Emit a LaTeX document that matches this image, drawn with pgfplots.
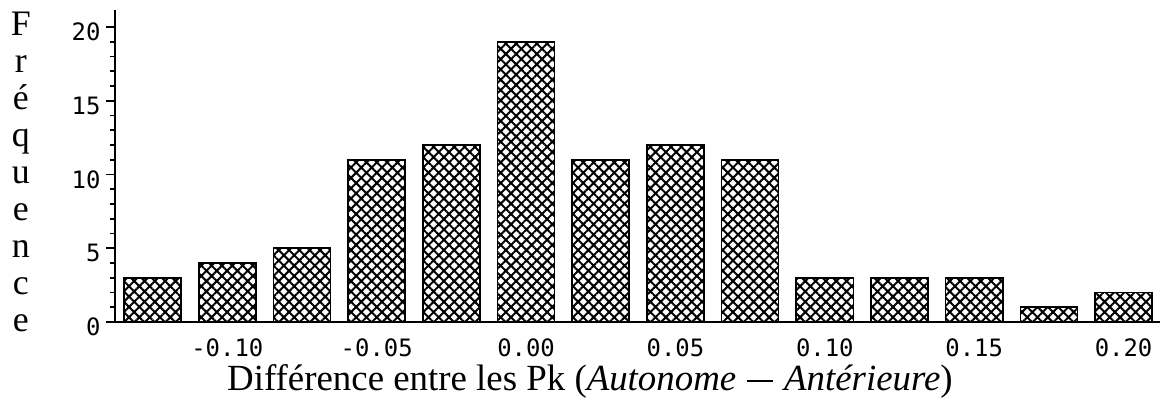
\documentclass[border=0pt]{standalone}
\usepackage{fontspec}
\setmainfont{Liberation Serif}
\newfontfamily\monofont{DejaVu Sans Mono}
\usepackage{pgfplots}
\pgfplotsset{compat=1.18}
\usetikzlibrary{patterns.meta}
\begin{document}
\begin{tikzpicture}
\useasboundingbox (-115bp,-83bp) rectangle (1046bp,322bp);
\begin{axis}[
  at={(0,0)}, anchor=south west,
  scale only axis, width=1045bp, height=312bp,
  xmin=-0.1376, xmax=0.2122, ymin=0, ymax=21.15,
  axis x line=bottom, axis y line=left,
  axis line style={-, line width=1.6bp},
  xtick={-0.1,-0.05,0,0.05,0.1,0.15,0.2},
  xticklabels={-0.10,-0.05,0.00,0.05,0.10,0.15,0.20},
  ytick={0,5,10,15,20}, yticklabels={0,5,10,15,20},
  minor y tick num=4,
  tick align=outside,
  x tick style={draw=none},
  y tick style={line width=1.6bp, black},
  major tick length=9bp, minor tick length=5bp,
  ticklabel style={font=\monofont\fontsize{24}{24}\selectfont},
  xticklabel style={anchor=base, inner sep=0pt, yshift=-25bp},
  yticklabel style={anchor=east, yshift=-5bp, xshift=-2bp},
  xlabel={Différence entre les Pk (\textit{Autonome}\hspace{0.28em}\rule[0.23em]{0.72em}{0.05em}\hspace{0.3em}\textit{Antérieure})},
  xlabel style={font=\fontsize{37}{40}\selectfont, inner sep=0pt, at={(axis description cs:0.4545,0)}, anchor=base, yshift=-68bp},
  ylabel={F\\r\\é\\q\\u\\e\\n\\c\\e},
  ylabel style={rotate=-90, align=center, inner sep=0pt, font=\fontsize{36}{37.1}\selectfont, at={(axis description cs:-0.09,1)}, anchor=north, yshift=-2bp},
]
\addplot[ybar, bar width=0.0191, draw=black, line width=1.6bp,
  pattern={Hatch[angle=45,distance=7.3bp,line width=2bp]}]
  coordinates {(-0.125,3) (-0.1,4) (-0.075,5) (-0.05,11) (-0.025,12) (0,19) (0.025,11) (0.05,12) (0.075,11) (0.1,3) (0.125,3) (0.15,3) (0.175,1) (0.2,2)};
\end{axis}
\end{tikzpicture}
\end{document}
